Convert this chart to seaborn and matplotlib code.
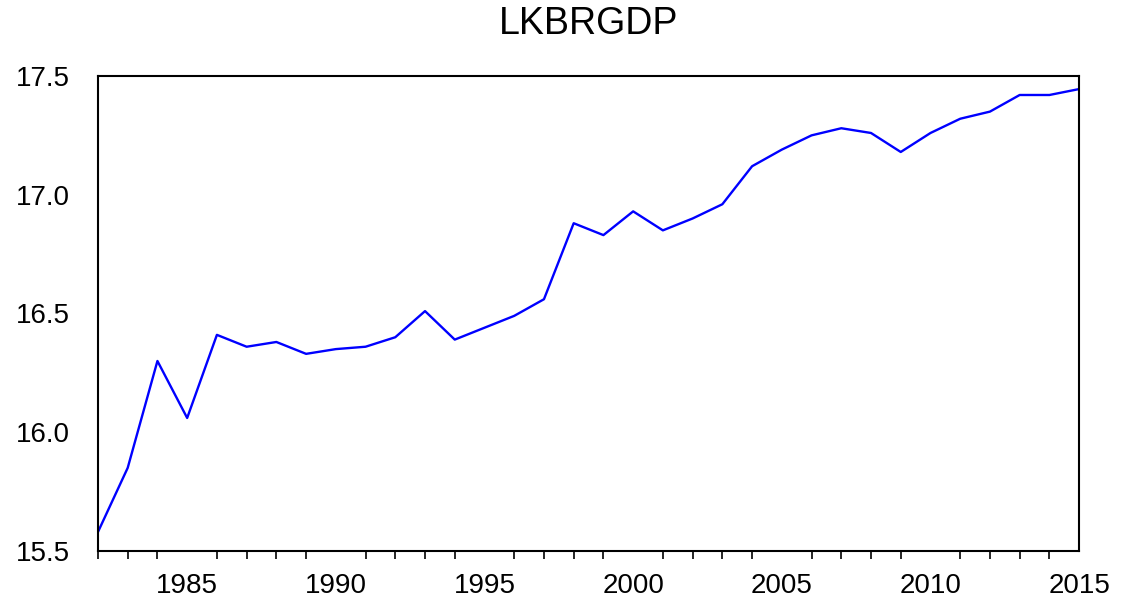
import matplotlib
matplotlib.use("Agg")
import pandas as pd
import matplotlib.pyplot as plt
import seaborn as sns
from matplotlib.ticker import MultipleLocator

# ============================================================
# DATA
# ============================================================

years = list(range(1982, 2016))
lkbrgdp = [
    15.58, 15.85, 16.30, 16.06, 16.41, 16.36, 16.38, 16.33, 16.35, 16.36,
    16.40, 16.51, 16.39, 16.44, 16.49, 16.56, 16.88, 16.83, 16.93, 16.85,
    16.90, 16.96, 17.12, 17.19, 17.25, 17.28, 17.26, 17.18, 17.26, 17.32,
    17.35, 17.42, 17.42, 17.445,
]
y_ticks = [15.5, 16.0, 16.5, 17.0, 17.5]
x_ticks = [1985, 1990, 1995, 2000, 2005, 2010, 2015]

df = pd.DataFrame({"year": years, "LKBRGDP": lkbrgdp})

# ============================================================
# PLOT
# ============================================================

sns.set_style("white")
plt.rcParams["font.family"] = ["Liberation Sans", "DejaVu Sans"]
plt.rcParams["text.color"] = "black"
plt.rcParams["xtick.color"] = "black"
plt.rcParams["ytick.color"] = "black"

fig = plt.figure(figsize=(11.3, 6.05), dpi=100)
ax = fig.add_axes([0.0867, 0.0893, 0.955 - 0.0867, 0.8744 - 0.0893])

sns.lineplot(data=df, x="year", y="LKBRGDP", color="#0000ff", linewidth=1.7, ax=ax)

ax.set_xlim(1982, 2015)
ax.set_ylim(15.5, 17.5)
ax.set_xticks(x_ticks)
ax.xaxis.set_minor_locator(MultipleLocator(1))
ax.set_yticks(y_ticks)
ax.set_yticklabels([f"{v:.1f}" for v in y_ticks])
ax.set_xlabel("")
ax.set_ylabel("")

for s in ax.spines.values():
    s.set_color("black")
    s.set_linewidth(1.5)

ax.tick_params(axis="both", which="major", direction="out", length=10,
               width=1.2, labelsize=20, labelcolor="black")
ax.tick_params(axis="x", which="major", pad=6)
ax.tick_params(axis="y", which="major", pad=10, color="#555555")
ax.tick_params(axis="x", which="minor", direction="out", length=6,
               width=1.2, color="black", bottom=True)

ax.set_title("LKBRGDP", fontsize=27, pad=30, color="black")

plt.savefig("out.png", dpi=100)
plt.close()
